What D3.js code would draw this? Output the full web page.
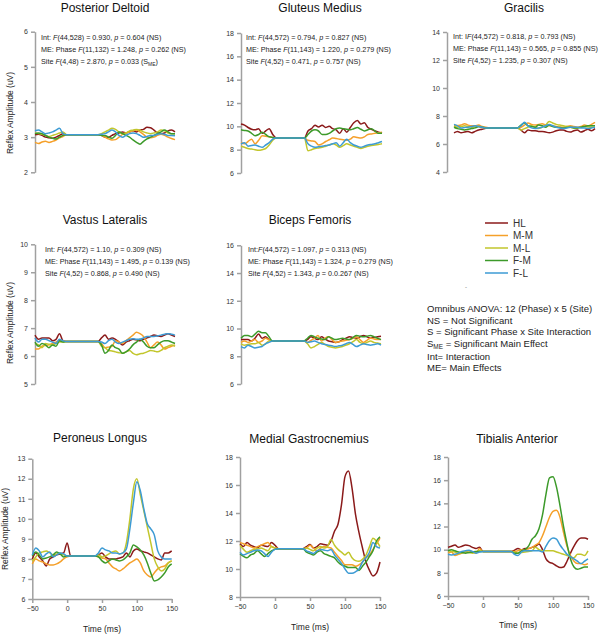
<!DOCTYPE html>
<html lang="en">
<head>
<meta charset="UTF-8">
<title>Reflex Amplitude by Site</title>
<script src="https://d3js.org/d3.v7.min.js"></script>
<style>
  body { margin: 0; background: #fff; }
  svg { font-family: Arial, "Liberation Sans", sans-serif; }
  .title { font-size: 12px; fill: #111; text-anchor: middle; }
  .note { font-size: 7.2px; fill: #222; }
  .axis path, .axis line { stroke: #a0a0a0; stroke-width: 1.5; }
  .axis text { font-size: 7px; fill: #333; font-family: Arial, "Liberation Sans", sans-serif; }
  .ylabel, .xlabel { font-size: 8.5px; fill: #222; text-anchor: middle; }
  .trace { fill: none; stroke-width: 1.5; }
  .legend text { font-size: 10px; fill: #333; }
  .key { font-size: 9.5px; fill: #222; }
</style>
</head>
<body>
<svg id="chart" width="600" height="634"></svg>
<script>
// time points (ms)
var times = [-50,-45,-40,-35,-30,-25,-20,-15,-10,-5,0,5,10,15,20,25,30,35,40,45,50,55,60,65,70,75,80,85,90,95,100,105,110,115,120,125,130,135,140,145,150];
var groups = ["HL", "M-M", "M-L", "F-M", "F-L"];
var colors = ["#8b1a1a", "#f5a02a", "#c2c62c", "#3c9a2a", "#3d9bd4"];
var timeTicks = [-50, 0, 50, 100, 150];

// Posterior Deltoid
var deltoid = {
  "HL":  [3.07,3.08,3.05,3.00,2.98,2.97,3.00,3.05,3.10,3.07, 3.07,3.07,3.07,3.07,3.07,3.07,3.07,3.07,3.07, 3.05,3.00,3.00,3.05,3.10,3.12,3.15,3.12,3.15,3.18,3.15,3.20,3.22,3.28,3.27,3.20,3.12,3.10,3.12,3.18,3.20,3.15],
  "M-M": [2.85,2.82,2.86,2.88,2.85,2.88,2.92,2.98,3.02,3.07, 3.07,3.07,3.07,3.07,3.07,3.07,3.07,3.07,3.07, 3.05,3.00,2.95,2.92,2.93,3.00,3.08,3.12,3.15,3.18,3.20,3.15,3.08,3.00,2.98,3.00,3.05,3.08,3.05,3.00,2.96,2.93],
  "M-L": [3.12,3.10,3.08,3.05,3.02,3.05,3.08,3.12,3.15,3.07, 3.07,3.07,3.07,3.07,3.07,3.07,3.07,3.07,3.07, 3.10,3.15,3.20,3.25,3.22,3.15,3.10,3.12,3.18,3.20,3.22,3.20,3.15,3.12,3.10,3.12,3.15,3.20,3.18,3.12,3.10,3.10],
  "F-M": [3.10,3.12,3.10,3.05,3.00,2.97,2.95,3.00,3.05,3.07, 3.07,3.07,3.07,3.07,3.07,3.07,3.07,3.07,3.07, 3.05,3.05,3.00,2.97,3.05,3.15,3.10,3.05,3.00,2.92,2.85,2.80,2.88,2.95,3.00,3.05,3.10,3.15,3.20,3.15,3.10,3.10],
  "F-L": [3.18,3.20,3.15,3.10,3.12,3.15,3.20,3.25,3.10,3.07, 3.07,3.07,3.07,3.07,3.07,3.07,3.07,3.07,3.07, 3.08,3.10,3.15,3.20,3.15,3.05,3.00,3.05,3.10,3.12,3.10,3.05,3.00,3.02,3.05,3.05,3.08,3.10,3.08,3.05,3.05,3.04]
};
var deltoidTicks = [2, 3, 4, 5, 6];
var deltoidNotes = ["Int: *F*(44,528) = 0.930, *p* = 0.604 (NS)", "ME: Phase *F*(11,132) = 1.248, *p* = 0.262 (NS)", "Site *F*(4,48) = 2.870, *p* = 0.033 (S_ME_)"];

// Gluteus Medius
var gluteus = {
  "HL":  [10.2,10.1,9.9,9.75,9.7,9.8,9.4,9.6,9.8,9.3, 9.0,9.0,9.0,9.0,9.0,9.0,9.0,9.0,9.0, 9.6,9.8,10.1,9.95,10.1,9.9,10.0,9.8,9.7,9.4,9.8,9.5,9.9,10.3,10.5,10.2,10.3,9.9,9.75,9.6,9.5,9.4],
  "M-M": [8.6,8.5,8.7,8.9,8.5,8.8,9.2,9.15,9.1,9.05, 9.0,9.0,9.0,9.0,9.0,9.0,9.0,9.0,9.0, 8.8,8.75,8.7,8.4,8.5,8.7,8.85,9.0,8.95,8.9,8.85,8.8,8.9,9.1,9.05,9.0,9.1,9.3,9.35,9.4,9.45,9.5],
  "M-L": [8.3,8.2,8.1,8.05,8.0,7.95,8.0,8.1,8.4,8.8, 9.0,9.0,9.0,9.0,9.0,9.0,9.0,9.0,9.0, 7.9,8.0,8.1,8.15,8.2,8.3,8.4,8.5,8.4,8.2,8.35,8.5,8.4,8.3,8.2,8.1,8.2,8.3,8.35,8.4,8.45,8.5],
  "F-M": [9.7,9.65,9.6,9.4,9.2,9.3,9.5,9.3,9.1,9.05, 9.0,9.0,9.0,9.0,9.0,9.0,9.0,9.0,9.0, 9.3,9.6,9.7,9.6,9.3,9.3,9.4,9.6,9.8,9.85,9.8,9.75,9.7,9.8,9.9,9.75,9.6,9.7,9.8,9.6,9.4,9.4],
  "F-L": [8.5,8.6,8.3,8.35,8.4,8.3,8.2,8.4,8.6,8.9, 9.0,9.0,9.0,9.0,9.0,9.0,9.0,9.0,9.0, 8.5,8.3,8.2,8.25,8.3,8.35,8.4,8.5,8.6,8.3,8.6,8.9,8.6,8.4,8.3,8.2,8.3,8.4,8.45,8.5,8.6,8.7]
};
var gluteusTicks = [6, 8, 10, 12, 14, 16, 18];
var gluteusNotes = ["Int: *F*(44,572) = 0.794, *p* = 0.827 (NS)", "ME: Phase *F*(11,143) = 1.220, *p* = 0.279 (NS)", "Site *F*(4,52) = 0.471, *p* = 0.757 (NS)"];

// Gracilis
var gracilis = {
  "HL":  [6.8,6.9,6.8,6.85,6.9,6.8,6.9,7.0,7.05,7.12, 7.15,7.15,7.15,7.15,7.15,7.15,7.15,7.15,7.15, 7.0,6.8,7.0,6.95,6.95,6.9,6.9,6.85,6.8,6.85,6.95,7.0,7.0,6.9,6.85,6.95,7.0,6.85,6.95,7.05,6.95,7.1],
  "M-M": [7.3,7.32,7.35,7.45,7.35,7.3,7.3,7.35,7.25,7.2, 7.15,7.15,7.15,7.15,7.15,7.15,7.15,7.15,7.15, 7.2,7.35,7.5,7.4,7.35,7.4,7.45,7.35,7.3,7.28,7.25,7.22,7.2,7.25,7.3,7.25,7.2,7.25,7.35,7.3,7.4,7.55],
  "M-L": [7.3,7.2,7.25,7.3,7.25,7.2,7.22,7.25,7.2,7.15, 7.15,7.15,7.15,7.15,7.15,7.15,7.15,7.15,7.15, 7.0,7.1,7.2,7.3,7.2,7.1,7.2,7.35,7.6,7.5,7.4,7.35,7.3,7.25,7.2,7.15,7.15,7.2,7.25,7.22,7.2,7.2],
  "F-M": [7.2,7.1,7.05,7.0,7.05,7.1,7.15,7.25,7.2,7.15, 7.15,7.15,7.15,7.15,7.15,7.15,7.15,7.15,7.15, 7.35,7.5,7.3,7.25,7.2,7.35,7.3,7.2,7.35,7.25,7.2,7.18,7.15,7.18,7.2,7.15,7.15,7.2,7.25,7.3,7.3,7.3],
  "F-L": [7.4,7.3,7.15,7.18,7.2,7.25,7.3,7.25,7.2,7.15, 7.15,7.15,7.15,7.15,7.15,7.15,7.15,7.15,7.15, 7.3,7.55,7.3,7.15,7.1,7.15,7.2,7.3,7.4,7.3,7.2,7.15,7.1,7.15,7.2,7.2,7.2,7.15,7.15,7.1,7.15,7.2]
};
var gracilisTicks = [4, 6, 8, 10, 12, 14];
var gracilisNotes = ["Int: I*F*(44,572) = 0.818, *p* = 0.793 (NS)", "ME: Phase *F*(11,143) = 0.565, *p* = 0.855 (NS)", "Site *F*(4,52) = 1.235, *p* = 0.307 (NS)"];

// Vastus Lateralis
var vastus = {
  "HL":  [6.75,6.6,6.65,6.65,6.65,6.55,6.6,6.8,6.55, 6.52,6.52,6.52,6.52,6.52,6.52,6.52,6.52,6.52,6.52, 6.65,6.75,6.6,6.65,6.6,6.5,6.4,6.5,6.55,6.6,6.58,6.55,6.6,6.65,6.7,6.75,6.72,6.7,6.75,6.8,6.75,6.7],
  "M-M": [6.25,6.25,6.35,6.38,6.4,6.45,6.5,6.55,6.55, 6.52,6.52,6.52,6.52,6.52,6.52,6.52,6.52,6.52,6.52, 6.45,6.3,6.32,6.35,6.55,6.5,6.45,6.55,6.65,6.75,6.85,6.8,6.7,6.5,6.3,6.4,6.5,6.4,6.25,6.3,6.35,6.4],
  "M-L": [6.45,6.4,6.3,6.45,6.42,6.4,6.45,6.5,6.5, 6.52,6.52,6.52,6.52,6.52,6.52,6.52,6.52,6.52,6.52, 6.35,6.3,6.2,6.18,6.15,6.12,6.1,6.15,6.2,6.1,6.05,6.08,6.1,6.15,6.2,6.18,6.15,6.2,6.3,6.35,6.4,6.35],
  "F-M": [6.5,6.35,6.45,6.4,6.3,6.4,6.35,6.55,6.5, 6.52,6.52,6.52,6.52,6.52,6.52,6.52,6.52,6.52,6.52, 6.4,6.1,6.2,6.4,6.3,6.25,6.1,6.15,6.25,6.4,6.5,6.6,6.5,6.35,6.3,6.3,6.4,6.5,6.55,6.55,6.5,6.45],
  "F-L": [6.65,6.5,6.6,6.6,6.55,6.5,6.45,6.6,6.55, 6.52,6.52,6.52,6.52,6.52,6.52,6.52,6.52,6.52,6.52, 6.5,6.45,6.55,6.6,6.5,6.45,6.5,6.55,6.6,6.62,6.6,6.6,6.65,6.7,6.7,6.7,6.72,6.75,6.78,6.8,6.78,6.75]
};
var vastusTicks = [5, 6, 7, 8, 9, 10];
var vastusNotes = ["Int: *F*(44,572) = 1.10, *p* = 0.309 (NS)", "ME: Phase *F*(11,143) = 1.495, *p* = 0.139 (NS)", "Site *F*(4,52) = 0.868, *p* = 0.490 (NS)"];

// Biceps Femoris
var biceps = {
  "HL":  [9.2,9.2,9.2,9.1,9.3,9.6,9.3,9.4,9.2, 9.1,9.1,9.1,9.1,9.1,9.1,9.1,9.1,9.1,9.1, 9.2,9.4,9.3,9.2,9.4,9.25,9.1,9.05,9.0,9.05,9.2,9.3,9.4,9.35,9.3,9.4,9.5,9.4,9.3,9.35,9.4,9.45],
  "M-M": [9.0,9.1,9.0,9.1,9.2,9.0,9.1,9.3,9.2, 9.1,9.1,9.1,9.1,9.1,9.1,9.1,9.1,9.1,9.1, 9.0,9.15,9.3,9.5,9.1,9.3,9.4,9.2,9.0,9.05,9.1,9.15,9.2,9.3,9.4,9.2,9.0,9.15,9.3,9.25,9.2,9.2],
  "M-L": [8.9,8.8,8.85,8.9,8.9,9.0,8.8,8.9,9.1, 9.1,9.1,9.1,9.1,9.1,9.1,9.1,9.1,9.1,9.1, 8.9,8.6,8.7,8.85,9.0,8.85,8.7,8.65,8.6,8.65,8.7,8.8,8.9,9.05,9.2,9.0,8.9,9.0,9.1,9.0,8.95,8.9],
  "F-M": [9.3,9.5,9.5,9.4,9.6,9.8,9.7,9.7,9.4, 9.1,9.1,9.1,9.1,9.1,9.1,9.1,9.1,9.1,9.1, 9.3,9.5,9.4,9.3,9.25,9.2,9.4,9.3,9.2,9.25,9.3,9.25,9.2,9.35,9.5,9.45,9.4,9.45,9.5,9.4,9.3,9.2],
  "F-L": [8.7,8.6,8.8,8.7,8.6,8.65,8.7,8.9,9.0, 9.1,9.1,9.1,9.1,9.1,9.1,9.1,9.1,9.1,9.1, 9.0,9.05,9.1,9.0,8.9,8.85,8.8,8.75,8.7,8.75,8.8,8.9,9.0,8.85,8.7,8.8,8.9,8.85,8.8,8.85,8.9,8.8]
};
var bicepsTicks = [6, 8, 10, 12, 14, 16];
var bicepsNotes = ["Int:*F*(44,572) = 1.097, *p* = 0.313 (NS)", "ME: Phase *F*(11,143) = 1.324, *p* = 0.279 (NS)", "Site *F*(4,52) = 1.343, *p* = 0.0.267 (NS)"];

// Peroneus Longus
var peroneus = {
  "HL":  [8.0,8.3,8.1,7.9,7.65,8.0,8.1,8.2,8.25,8.3,8.8, 8.15,8.15,8.15,8.15,8.15,8.15,8.15,8.15, 8.2,8.3,8.1,8.0,8.0,8.0,8.05,8.1,8.3,8.1,8.4,8.5,8.4,8.35,8.3,8.2,8.1,8.0,7.95,8.3,8.3,8.4],
  "M-M": [7.75,8.0,7.9,7.85,7.75,7.7,7.7,7.75,7.85,8.0,8.1, 8.15,8.15,8.15,8.15,8.15,8.15,8.15,8.15, 8.1,8.05,8.0,7.8,7.6,7.5,7.4,7.5,7.65,7.8,7.9,8.0,7.8,7.4,7.2,7.1,7.3,7.5,7.6,7.65,7.8,7.9],
  "M-L": [7.9,8.1,8.3,8.35,8.4,8.3,8.2,8.25,8.3,8.2,8.15, 8.15,8.15,8.15,8.15,8.15,8.15,8.15,8.15, 8.2,8.1,8.15,8.25,8.35,8.4,8.25,8.3,8.8,10.0,11.5,12.0,11.2,10.4,9.6,8.8,8.0,7.6,7.4,7.5,7.8,7.9],
  "F-M": [8.15,8.35,8.2,8.0,8.05,8.1,8.2,8.35,8.25,8.1,8.15, 8.15,8.15,8.15,8.15,8.15,8.15,8.15,8.15, 8.1,7.9,7.8,7.9,8.0,7.95,7.9,7.95,8.1,8.3,8.7,8.6,8.45,8.2,7.8,7.3,6.9,6.95,7.1,7.3,7.6,7.75],
  "F-L": [8.2,8.55,8.4,8.1,8.25,8.35,8.1,8.2,8.3,8.25,8.15, 8.15,8.15,8.15,8.15,8.15,8.15,8.15,8.15, 8.3,8.55,8.45,8.4,8.3,8.3,8.25,8.3,8.5,9.5,10.8,11.85,11.4,10.5,9.75,9.5,9.2,8.4,8.1,8.0,8.0,8.0]
};
var peroneusTicks = [6, 7, 8, 9, 10, 11, 12, 13];

// Medial Gastrocnemius
var gastroc = {
  "HL":  [11.8,11.6,11.9,11.7,11.6,11.5,11.7,11.65,11.6,11.9,11.7, 11.45,11.45,11.45,11.45,11.45,11.45,11.45,11.45, 11.6,11.75,11.5,11.6,11.8,11.75,11.7,12.0,12.7,13.2,14.6,16.6,17.0,15.8,13.9,12.6,11.5,10.5,9.9,9.5,9.7,10.5],
  "M-M": [11.9,11.8,11.7,11.6,11.5,11.6,11.7,11.8,11.9,11.6,11.5, 11.45,11.45,11.45,11.45,11.45,11.45,11.45,11.45, 11.5,11.7,11.5,11.3,11.5,11.6,11.55,11.5,11.2,10.9,10.6,10.3,10.3,10.3,10.2,10.3,10.5,10.8,11.0,11.4,11.8,12.2],
  "M-L": [11.7,11.4,11.2,11.3,11.4,11.45,11.5,11.4,11.3,11.6,11.5, 11.45,11.45,11.45,11.45,11.45,11.45,11.45,11.45, 11.5,11.4,11.3,11.5,11.6,11.5,11.6,12.1,11.7,11.4,11.2,11.0,11.2,10.8,10.6,10.55,10.7,11.0,11.6,12.2,12.0,11.6],
  "F-M": [11.1,10.9,10.8,11.0,11.1,11.3,11.1,10.9,11.1,11.3,11.4, 11.45,11.45,11.45,11.45,11.45,11.45,11.45,11.45, 11.2,11.1,11.0,11.2,11.3,11.1,11.0,10.9,10.8,10.5,10.3,10.2,10.1,10.1,10.1,9.9,10.2,10.5,10.9,11.3,12.0,12.3],
  "F-L": [11.2,11.0,11.1,11.2,11.3,11.35,11.3,11.1,10.9,11.2,11.4, 11.45,11.45,11.45,11.45,11.45,11.45,11.45,11.45, 11.3,11.2,11.1,11.3,11.4,11.35,11.3,11.4,11.0,10.7,10.4,10.0,9.7,9.7,9.8,10.0,10.5,10.8,11.2,11.9,11.6,11.5]
};
var gastrocTicks = [8, 10, 12, 14, 16, 18];

// Tibialis Anterior
var tibialis = {
  "HL":  [10.2,10.3,10.4,10.2,10.3,10.4,10.35,10.2,10.1,10.2, 9.85,9.85,9.85,9.85,9.85,9.85,9.85,9.85,9.85, 9.95,10.1,10.0,10.1,10.1,10.2,10.3,10.5,10.0,9.2,8.9,8.8,8.6,8.45,8.5,9.0,9.7,10.3,10.8,11.0,11.0,10.9],
  "M-M": [9.7,9.8,9.5,9.6,9.7,9.8,9.9,9.8,9.7,10.1, 9.85,9.85,9.85,9.85,9.85,9.85,9.85,9.85,9.85, 9.85,9.9,10.0,10.0,10.1,10.2,10.4,10.6,11.2,12.0,12.8,13.3,13.4,12.8,11.5,10.3,9.5,9.0,8.8,8.8,8.7,8.8],
  "M-L": [9.9,9.85,9.8,9.65,9.75,9.8,9.75,9.7,9.8,9.9, 9.85,9.85,9.85,9.85,9.85,9.85,9.85,9.85,9.85, 9.8,9.7,9.75,9.8,9.85,9.9,10.2,10.0,9.9,9.9,9.9,9.9,9.8,9.7,9.6,9.5,9.4,9.3,9.6,9.6,9.5,9.9],
  "F-M": [9.9,10.0,9.9,9.8,9.75,9.7,9.75,9.8,9.85,9.85, 9.85,9.85,9.85,9.85,9.85,9.85,9.85,9.85,9.85, 9.7,9.7,9.9,10.0,10.3,10.9,11.2,11.8,13.0,14.8,16.2,16.3,15.4,13.8,12.0,10.5,9.2,8.5,8.3,8.4,8.5,8.5],
  "F-L": [9.6,9.55,9.6,9.7,9.85,9.9,9.95,9.85,9.7,9.8, 9.85,9.85,9.85,9.85,9.85,9.85,9.85,9.85,9.85, 9.6,9.5,9.8,9.9,9.9,9.9,9.9,9.9,9.8,10.3,10.8,11.0,10.9,10.4,10.0,9.6,9.4,9.2,9.0,8.8,9.0,9.2]
};
var tibialisTicks = [6, 8, 10, 12, 14, 16, 18];

var keyLines = ["Omnibus ANOVA: 12 (Phase) x 5 (Site)", "NS = Not Significant", "S = Significant Phase x Site Interaction", "S_ME_ = Significant Main Effect", "Int= Interaction", "ME= Main Effects"];

// panel layout (pixels)
var panels = [
  {title: "Posterior Deltoid", data: deltoid, ticks: deltoidTicks, notes: deltoidNotes,
   x0: 35, x1: 175, ax: 35, yTop: 31.7, yBot: 172.3, tx: 105, ty: 11.5, nx: 41, ny: 40, ylab: [13, 113]},
  {title: "Gluteus Medius", data: gluteus, ticks: gluteusTicks, notes: gluteusNotes,
   x0: 241, x1: 382, ax: 241, yTop: 33, yBot: 173, tx: 320, ty: 11.5, nx: 246, ny: 39.5},
  {title: "Gracilis", data: gracilis, ticks: gracilisTicks, notes: gracilisNotes,
   x0: 454, x1: 595, ax: 447, yTop: 32, yBot: 172, tx: 524, ty: 11.5, nx: 453, ny: 39},
  {title: "Vastus Lateralis", data: vastus, ticks: vastusTicks, notes: vastusNotes,
   x0: 35, x1: 175, ax: 35, yTop: 244.3, yBot: 384, tx: 105, ty: 223.5, nx: 45, ny: 252, ylab: [13, 323]},
  {title: "Biceps Femoris", data: biceps, ticks: bicepsTicks, notes: bicepsNotes,
   x0: 241, x1: 381, ax: 241, yTop: 245.3, yBot: 384, tx: 310, ty: 223.5, nx: 248, ny: 252},
  {title: "Peroneus Longus", data: peroneus, ticks: peroneusTicks,
   x0: 32.3, x1: 171.7, ax: 32.3, yTop: 458.7, yBot: 599, tx: 100, ty: 441.5, ylab: [8, 529], xlab: 632},
  {title: "Medial Gastrocnemius", data: gastroc, ticks: gastrocTicks,
   x0: 240, x1: 380, ax: 240, yTop: 457, yBot: 597, tx: 309, ty: 443, xlab: 630},
  {title: "Tibialis Anterior", data: tibialis, ticks: tibialisTicks,
   x0: 448, x1: 588, ax: 448, yTop: 457, yBot: 596, tx: 517, ty: 443, xlab: 628}
];

var svg = d3.select("#chart");

// text with *italic* and _subscript_ parts
function richText(el, str, size) {
  var parts = str.split(/(\*[^*]+\*|_[^_]+_)/).filter(function(s) { return s.length; });
  var shift = 0;
  parts.forEach(function(p) {
    var t = el.append("tspan");
    if (shift) { t.attr("dy", -shift); shift = 0; }
    if (p[0] === "*") {
      t.attr("font-style", "italic").text(p.slice(1, -1));
    } else if (p[0] === "_") {
      shift = size * 0.3;
      t.attr("dy", shift).attr("font-size", size * 0.68).text(p.slice(1, -1));
    } else {
      t.text(p);
    }
  });
}

panels.forEach(function(p) {
  var ext = d3.extent(p.ticks);
  var x = d3.scaleLinear().domain([-50, 150]).range([p.x0, p.x1]);
  var y = d3.scaleLinear().domain(ext).range([p.yBot, p.yTop]);
  var g = svg.append("g");

  g.append("g")
    .attr("class", "axis")
    .attr("transform", "translate(" + p.ax + ",0)")
    .call(d3.axisLeft(y).tickValues(p.ticks).tickSize(4).tickSizeOuter(0).tickPadding(3).tickFormat(d3.format("d")));

  if (p.xlab) {
    g.append("g")
      .attr("class", "axis")
      .attr("transform", "translate(0," + p.yBot + ")")
      .call(d3.axisBottom(x).tickValues(timeTicks).tickSize(4).tickSizeOuter(0).tickPadding(3));
    g.append("text").attr("class", "xlabel")
      .attr("x", (p.x0 + p.x1) / 2).attr("y", p.xlab)
      .text("Time (ms)");
  }

  var line = d3.line()
    .x(function(d, i) { return x(times[i]); })
    .y(function(d) { return y(d); })
    .curve(d3.curveMonotoneX);

  groups.forEach(function(k, i) {
    g.append("path")
      .attr("class", "trace")
      .attr("stroke", colors[i])
      .attr("d", line(p.data[k]));
  });

  g.append("text").attr("class", "title")
    .attr("x", p.tx).attr("y", p.ty)
    .text(p.title);

  if (p.notes) {
    p.notes.forEach(function(s, i) {
      var t = g.append("text").attr("class", "note")
        .attr("x", p.nx).attr("y", p.ny + i * 12);
      richText(t, s, 7.2);
    });
  }

  if (p.ylab) {
    g.append("text").attr("class", "ylabel")
      .attr("transform", "translate(" + p.ylab[0] + "," + p.ylab[1] + ") rotate(-90)")
      .text("Reflex Amplitude (uV)");
  }
});

// legend
var legend = svg.append("g").attr("class", "legend");
groups.forEach(function(k, i) {
  var yy = 223 + i * 12.5;
  legend.append("line")
    .attr("x1", 485).attr("x2", 508).attr("y1", yy).attr("y2", yy)
    .attr("stroke", colors[i]).attr("stroke-width", 1.5);
  legend.append("text").attr("x", 513).attr("y", yy + 3.5).text(k);
});
svg.append("text").attr("x", 465).attr("y", 289).attr("font-size", 6).attr("fill", "#666").text("-");

var keyY = [312, 323.5, 335, 346.5, 360, 371];
keyLines.forEach(function(s, i) {
  var t = svg.append("text").attr("class", "key").attr("x", 427).attr("y", keyY[i]);
  richText(t, s, 9.5);
});
</script>
</body>
</html>
